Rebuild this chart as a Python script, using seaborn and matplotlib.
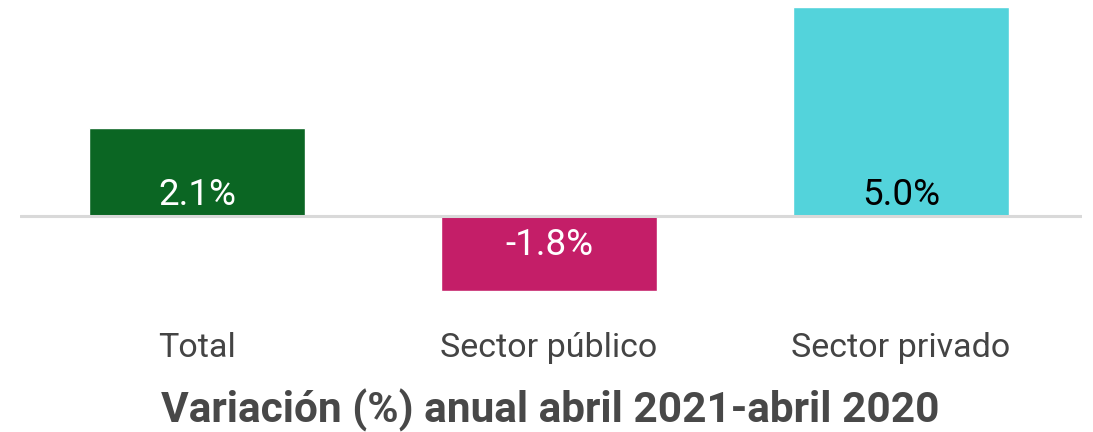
import matplotlib
matplotlib.use("Agg")
import matplotlib.pyplot as plt
import seaborn as sns
import pandas as pd

categorias = ["Total", "Sector público", "Sector privado"]
variacion = [2.1, -1.8, 5.0]
colores = ["#0B6623", "#C41E68", "#53D3DB"]
colores_texto = ["white", "white", "black"]
titulo = "Variación (%) anual abril 2021-abril 2020"

sns.set_style("white")
plt.rcParams["font.family"] = ["Roboto", "DejaVu Sans"]

W, H, DPI = 1093, 432, 100
fig = plt.figure(figsize=(W / DPI, H / DPI), dpi=DPI)
# axes box in pixel terms: x 20..1082, y 0..300 from top
ax = fig.add_axes([20 / W, (H - 300) / H, 1062 / W, 300 / H])

df = pd.DataFrame({"cat": categorias, "val": variacion})
sns.barplot(data=df, x="cat", y="val", hue="cat", palette=colores,
            saturation=1, width=0.614, legend=False, ax=ax, zorder=2)

ax.set_xlim(-0.503, 2.514)
ax.set_ylim(-2.02, 5.17)
ax.axhline(0, color="#d9d9d9", lw=2.2, zorder=3)

for s in ax.spines.values():
    s.set_visible(False)
ax.set_yticks([])
ax.set_xlabel("")
ax.set_ylabel("")
ax.tick_params(axis="x", length=0, pad=23, labelsize=24.5, labelcolor="#444444")

for i, (v, c) in enumerate(zip(variacion, colores_texto)):
    off = 8 if v >= 0 else -28
    ax.annotate(f"{v:.1f}%", xy=(i, 0), xytext=(0, off), textcoords="offset points",
                ha="center", va="baseline", fontsize=26.5, color=c, zorder=4)

fig.text(550 / W, 1 - 410 / H, titulo, ha="center", va="center",
         fontsize=30.5, fontweight="bold", color="#484848")

fig.savefig("out.png", dpi=DPI, facecolor="white")
